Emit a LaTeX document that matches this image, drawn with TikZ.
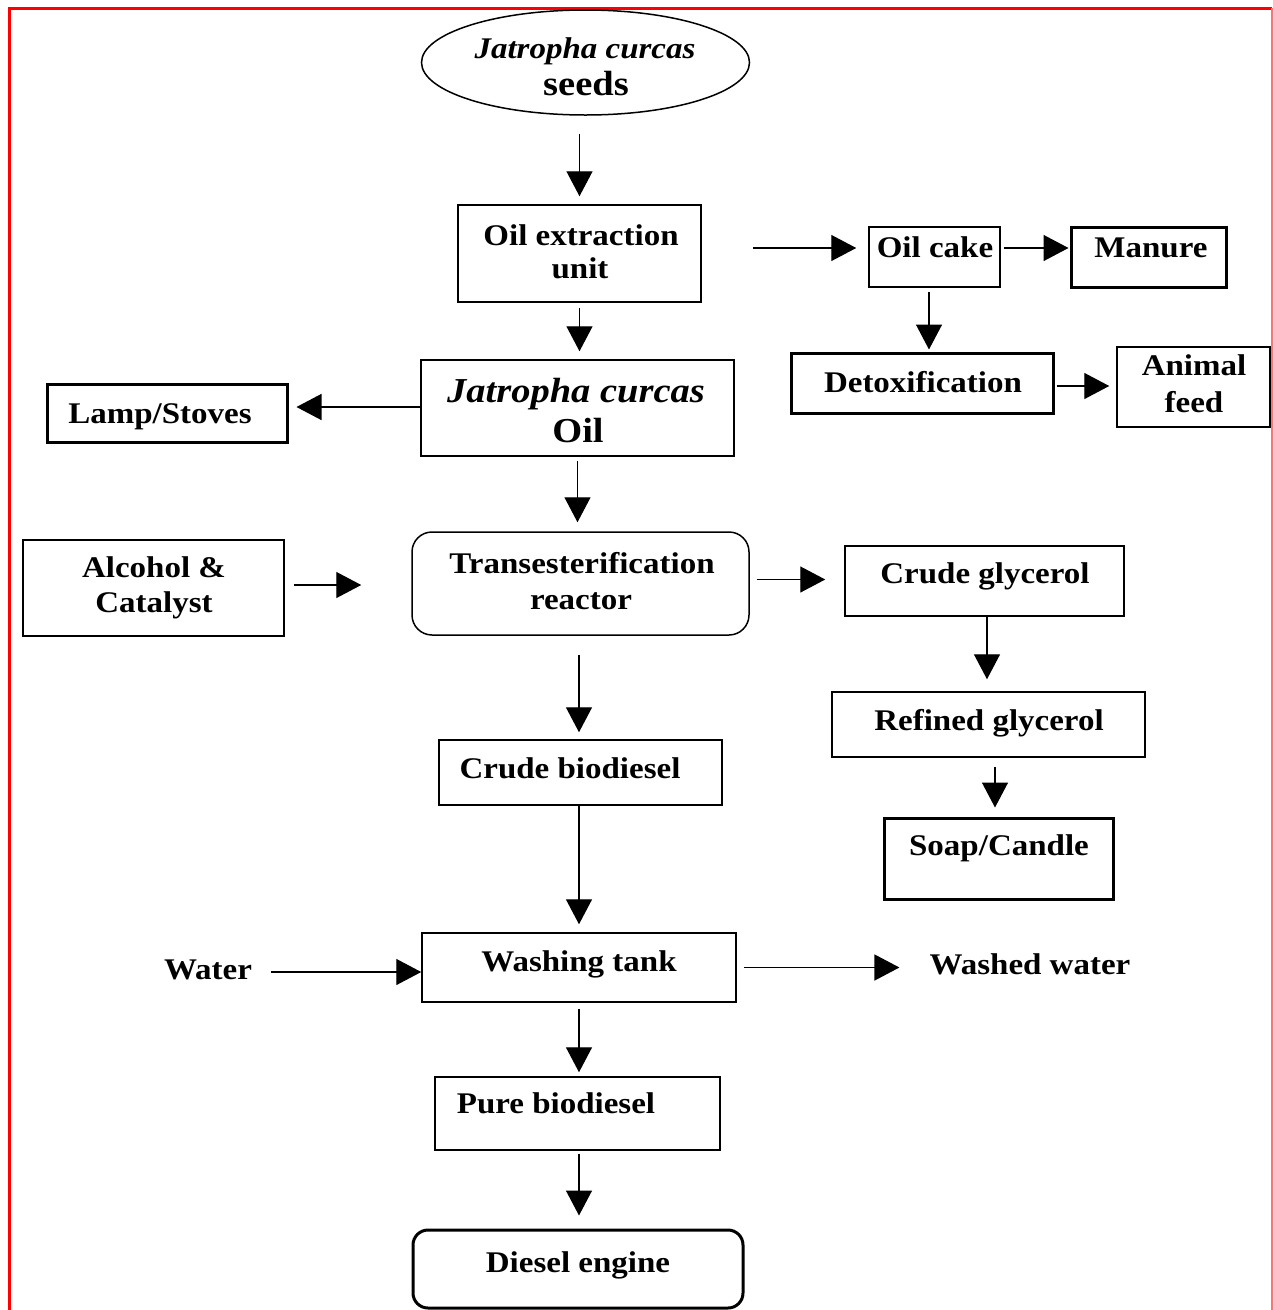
\documentclass[tikz,border=0pt]{standalone}
\usepackage{fontspec}
\setmainfont{Liberation Serif}[FakeStretch=1.1]
\usetikzlibrary{arrows.meta,shapes.geometric}
\tikzset{
  box/.style={draw, line width=1.5pt, inner sep=0pt, rectangle},
  thickbox/.style={draw, line width=3pt, inner sep=0pt, rectangle},
  txt/.style={inner sep=0pt, anchor=base, font=\fontsize{30}{34}\selectfont\bfseries},
  bigtxt/.style={inner sep=0pt, anchor=base, font=\fontsize{35}{40}\selectfont\bfseries},
  arr/.style={line width=1.4pt, -{Triangle[length=25pt,width=26pt]}},
}
\begin{document}
\begin{tikzpicture}[x=1pt,y=-1pt]
\clip (0,0) rectangle (1273,1310);
\fill[white] (0,0) rectangle (1273,1310);
% red frame
\draw[red, line width=3pt] (9,1330) -- (9,8) -- (1272,8);
\draw[red!55, line width=1.5pt] (1272,8) -- (1272,1330);

% boxes
\node[draw, ellipse, line width=1.5pt, minimum width=328pt, minimum height=105pt, inner sep=0pt] (seeds) at (585.5,62.5) {};
\node[box, minimum width=243pt, minimum height=97pt] (oe) at (579.5,253.5) {};
\node[box, minimum width=131pt, minimum height=60pt] (cake) at (934.5,257) {};
\node[thickbox, minimum width=155pt, minimum height=60pt] (manure) at (1148.5,257) {};
\node[thickbox, minimum width=262pt, minimum height=60pt] (detox) at (922,383) {};
\node[box, minimum width=153pt, minimum height=80pt] (feed) at (1193.5,387) {};
\node[box, minimum width=313pt, minimum height=96pt] (jco) at (577.5,408) {};
\node[thickbox, minimum width=240pt, minimum height=58pt] (lamp) at (167,413) {};
\node[box, rounded corners=20pt, minimum width=337pt, minimum height=103pt] (tr) at (580.5,583.5) {};
\node[box, minimum width=261pt, minimum height=96pt] (alc) at (153.5,588) {};
\node[box, minimum width=279pt, minimum height=70pt] (cg) at (984.5,581) {};
\node[box, minimum width=313pt, minimum height=65pt] (rg) at (988.5,724.5) {};
\node[thickbox, minimum width=229pt, minimum height=81pt] (soap) at (998.5,858.5) {};
\node[box, minimum width=283pt, minimum height=65pt] (cb) at (580.5,772.5) {};
\node[box, minimum width=314pt, minimum height=69pt] (wt) at (579,967.5) {};
\node[box, minimum width=285pt, minimum height=73pt] (pb) at (577.5,1113.5) {};
\node[thickbox, rounded corners=15pt, minimum width=330pt, minimum height=78pt] (de) at (578,1269) {};

% texts
\node[txt, font=\fontsize{30}{34}\selectfont\bfseries\itshape] (seeds-t1) at (585,58) {Jatropha curcas};
\node[bigtxt] (seeds-t2) at (586,95) {seeds};
\node[txt] (oe-t1) at (581,245) {Oil extraction};
\node[txt] (oe-t2) at (580,278) {unit};
\node[txt] (cake-t) at (935,257) {Oil cake};
\node[txt] (manure-t) at (1151,257) {Manure};
\node[txt] (detox-t) at (923,392) {Detoxification};
\node[txt] (feed-t1) at (1194,375) {Animal};
\node[txt] (feed-t2) at (1194,412) {feed};
\node[bigtxt, font=\fontsize{35}{40}\selectfont\bfseries\itshape] (jco-t1) at (576,402) {Jatropha curcas};
\node[bigtxt] (jco-t2) at (578,442) {Oil};
\node[txt] (lamp-t) at (160,423) {Lamp/Stoves};
\node[txt] (alc-t1) at (154,577) {Alcohol \&};
\node[txt] (alc-t2) at (154,612) {Catalyst};
\node[txt] (tr-t1) at (582,573) {Transesterification};
\node[txt] (tr-t2) at (581,609) {reactor};
\node[txt] (cg-t) at (985,583) {Crude glycerol};
\node[txt] (rg-t) at (989,730) {Refined glycerol};
\node[txt] (soap-t) at (999,855) {Soap/Candle};
\node[txt] (cb-t) at (570,778) {Crude biodiesel};
\node[txt] (water) at (208,979) {Water};
\node[txt] (wt-t) at (579,971) {Washing tank};
\node[txt] (washed) at (1030,974) {Washed water};
\node[txt] (pb-t) at (556,1113) {Pure biodiesel};
\node[txt] (de-t) at (578,1272) {Diesel engine};

% helper coordinates
\coordinate (a1) at ([yshift=9pt]cake.west);
\coordinate (a2) at ([yshift=9pt]manure.west);
\coordinate (a3) at ([xshift=-5.5pt]cake.south);
\coordinate (a4) at ([yshift=-3pt]detox.east);
\coordinate (a5) at ([yshift=1pt]jco.west);
\coordinate (a6) at ([yshift=3pt]alc.east);
\coordinate (a7) at ([yshift=1.5pt]cg.west);
\coordinate (a8) at ([xshift=2.5pt]cg.south);
\coordinate (a9) at ([xshift=-3.5pt]soap.north);
\coordinate (a10) at ([xshift=-1.5pt]cb.north);
\coordinate (a11) at ([yshift=-4.5pt]wt.west);

% connectors
\draw[arr, shorten <=18pt, shorten >=8pt] (seeds.south -| oe.north) -- (oe.north);
\draw[arr, shorten <=5pt, shorten >=8pt] (oe.south) -- (oe.south |- jco.north);
\draw[arr, shorten <=51pt, shorten >=12pt] (oe.east |- a1) -- (a1);
\draw[arr, shorten <=3pt, shorten >=1pt] (cake.east |- a2) -- (a2);
\draw[arr, shorten <=4pt, shorten >=2pt] (a3) -- (a3 |- detox.north);
\draw[arr, shorten <=2pt, shorten >=7pt] (a4) -- (a4 -| feed.west);
\draw[arr, shorten >=8pt] (a5) -- (a5 -| lamp.east);
\draw[arr, shorten <=4pt, shorten >=9pt] (jco.south) -- (jco.south |- tr.north);
\draw[arr, shorten <=9pt, shorten >=50pt] (a6) -- (a6 -| tr.west);
\draw[arr, shorten <=7pt, shorten >=19pt] (tr.east |- a7) -- (a7);
\draw[arr, shorten >=12pt] (a8) -- (a8 |- rg.north);
\draw[arr, shorten <=9pt, shorten >=9pt] (a9 |- rg.south) -- (a9);
\draw[arr, shorten <=19pt, shorten >=7pt] (a10 |- tr.south) -- (a10);
\draw[arr, shorten >=8pt] (wt.north |- cb.south) -- (wt.north);
\draw[arr, shorten <=19pt] (a11 -| water.east) -- (a11);
\draw[arr, shorten <=7pt, shorten >=30pt] (wt.east) -- (wt.east -| washed.west);
\draw[arr, shorten <=6pt, shorten >=4pt] (wt.south) -- (wt.south |- pb.north);
\draw[arr, shorten <=3pt, shorten >=13pt] (wt.south |- pb.south) -- (wt.south |- de.north);
\end{tikzpicture}
\end{document}
